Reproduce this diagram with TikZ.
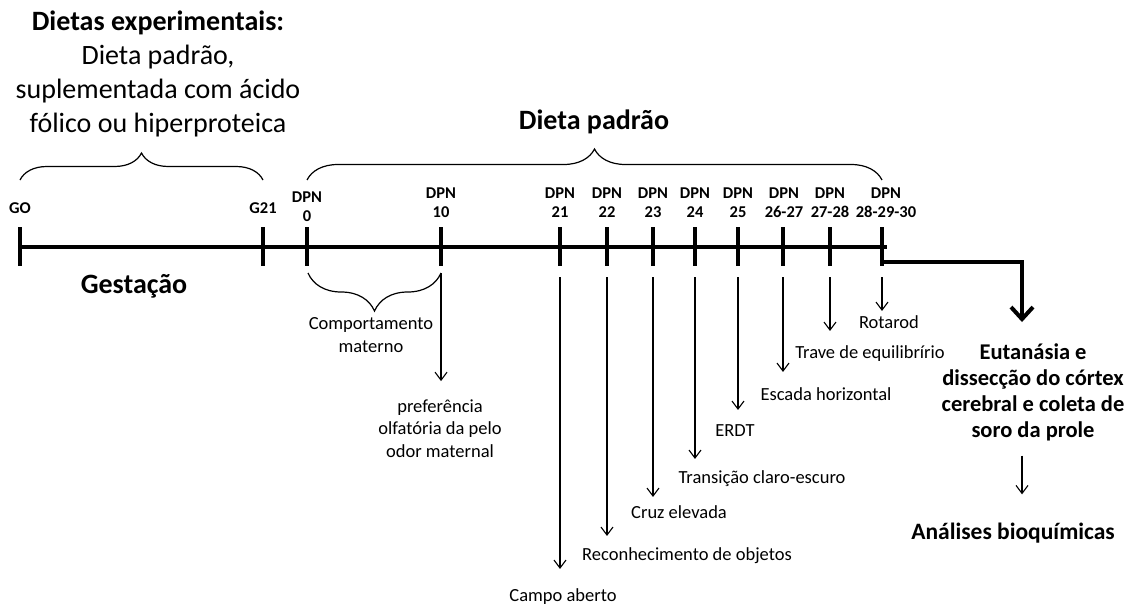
\documentclass[tikz,border=0pt]{standalone}
\usepackage{fontspec}
\setmainfont{Carlito}
\usetikzlibrary{arrows.meta,decorations.pathreplacing,positioning,calc}
\tikzset{
  tline/.style={line width=4pt},
  tmark/.style={line width=4pt},
  tday/.style={font=\fontsize{16.5}{19}\selectfont\bfseries,align=center,
               inner sep=0pt,anchor=base},
  ttest/.style={font=\fontsize{18.5}{22.5}\selectfont,align=center,
                inner sep=0pt,anchor=base},
  thead/.style={font=\fontsize{28}{34}\selectfont\bfseries,align=center,
                inner sep=0pt,anchor=base},
  tend/.style={font=\fontsize{22.5}{26}\selectfont\bfseries,align=center,
               inner sep=0pt,anchor=base},
  tbrace/.style={decorate,decoration={brace,amplitude=#1},line width=1.2pt},
  tarrow/.style={-{Straight Barb[length=8pt,width=12pt]},line width=1.1pt},
  tbig/.style={line width=4pt,line join=miter,
               -{Straight Barb[length=12pt,width=22pt,line width=4pt]}},
}
\begin{document}
\begin{tikzpicture}[x=1pt,y=-1pt]
  \useasboundingbox (0,0) rectangle (1129,605);
  % linha do tempo
  \draw[tline] (18,247) -- (887,247);
  \foreach \n/\x in {g0/20,g21/263,d0/307,d10/441,d21/560,d22/607,d23/653,
                     d24/695,d25/738,d26/783,d27/830,d28/882}{
    \draw[tmark] (\x,227) -- (\x,266);
    \coordinate (\n) at (\x,277);
  }
  \node[tday] (lg0) at (20,213) {GO};
  \node[tday] (lg21) at (263,213) {G21};
  \node[tday] (ld0) at (307,221) {DPN\\0};
  \foreach \n/\x/\t in {d10/441/10,d21/560/21,d22/607/22,d23/653/23,d24/695/24,
                        d25/738/25,d26/784/26-27,d27/830/27-28,d28/886/28-29-30}
    \node[tday] (l\n) at (\x,217) {DPN\\\t};
  % dietas
  \node[thead] (dietas) at (158,132)
    {Dietas experimentais:\\\mdseries Dieta padrão,\\\mdseries suplementada com ácido\\\mdseries fólico ou hiperproteica};
  \draw[tbrace=27pt] (20,180) -- (263,180);
  \node[thead] (padrao) at (594,129) {Dieta padrão};
  \draw[tbrace=31pt] (307,180) -- (882,180);
  \node[thead] (gest) at (134,293) {Gestação};
  % comportamento materno
  \draw[tbrace=38pt] (441,273) -- (308,273);
  \node[ttest] (mat) at (371,352) {Comportamento\\materno};
  % testes
  \node[ttest] (olf) at (440,457) {preferência\\olfatória da pelo\\odor maternal};
  \node[ttest] (campo) at (563,601) {Campo aberto};
  \node[ttest] (reco) at (687,560) {Reconhecimento de objetos};
  \node[ttest] (cruz) at (679,518) {Cruz elevada};
  \node[ttest] (trans) at (762,483) {Transição claro-escuro};
  \node[ttest] (erdt) at (735,436) {ERDT};
  \node[ttest] (escada) at (826,400) {Escada horizontal};
  \node[ttest] (trave) at (870,358) {Trave de equilibrírio};
  \node[ttest] (rota) at (889,328) {Rotarod};
  \draw[tarrow,shorten <=-4pt,shorten >=18pt] (d10) -- (d10 |- olf.north);
  \draw[tarrow,shorten >=19pt] (d21) -- (d21 |- campo.north);
  \draw[tarrow,shorten >=11pt] (d22) -- (d22 |- reco.north);
  \draw[tarrow,shorten >=8pt] (d23) -- (d23 |- cruz.north);
  \draw[tarrow,shorten >=11pt] (d24) -- (d24 |- trans.north);
  \draw[tarrow,shorten >=14pt] (d25) -- (d25 |- erdt.north);
  \draw[tarrow,shorten >=15pt] (d26) -- (d26 |- escada.north);
  \draw[tarrow,shorten >=14pt] (d27) -- (d27 |- trave.north);
  \draw[tarrow,shorten >=4pt] (d28) -- (d28 |- rota.north);
  % eutanasia
  \coordinate (exit) at (1022,262);
  \node[tend] (eut) at (1033,437)
    {Eutanásia e\\dissecção  do córtex\\cerebral e coleta de\\soro da prole};
  \node[tend,font=\fontsize{23.5}{28}\selectfont\bfseries] (ana) at (1013,539)
    {Análises  bioquímicas};
  \draw[tbig,shorten >=21pt] (d28 |- exit) -- (exit) -- (exit |- eut.north);
  \draw[tarrow,shorten <=15pt,shorten >=28pt] (exit |- eut.south) -- (exit |- ana.north);
\end{tikzpicture}
\end{document}
